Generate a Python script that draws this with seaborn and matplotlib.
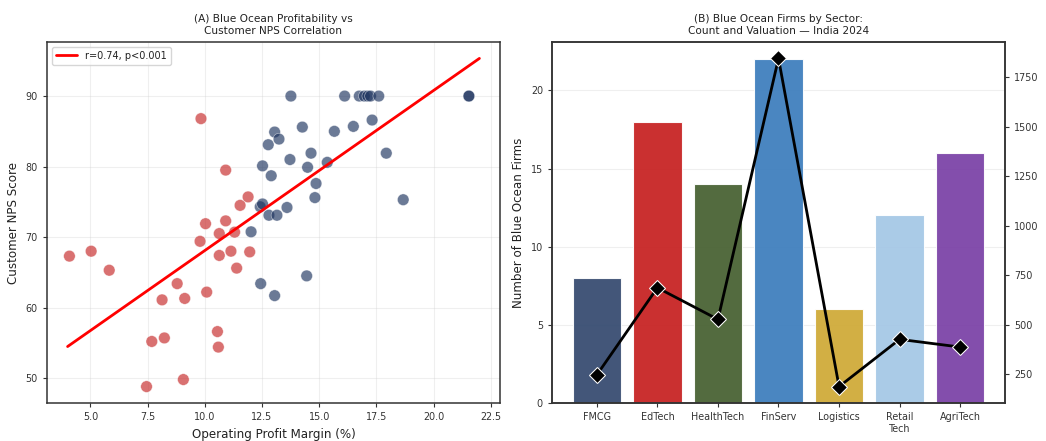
import numpy as np
import pandas as pd
import matplotlib
matplotlib.use("Agg")
import matplotlib.pyplot as plt
import seaborn as sns

# ---------------- data ----------------
red_margin = [4.08, 5.03, 5.82, 7.45, 7.68, 8.23, 8.13, 8.79, 9.12, 9.06, 9.83, 9.79, 10.03,
              10.08, 10.55, 10.59, 10.63, 10.63, 10.91, 10.91, 11.14, 11.30, 11.39, 11.54, 11.89, 11.96]
red_nps = [67.3, 68.0, 65.3, 48.8, 55.2, 55.7, 61.1, 63.4, 61.3, 49.8, 86.8, 69.4, 71.9,
           62.2, 56.6, 54.4, 70.5, 67.4, 79.5, 72.3, 68.0, 70.7, 65.6, 74.5, 75.7, 67.9]

blue_margin = [12.02, 12.42, 12.52, 12.44, 12.52, 12.77, 12.80, 12.90, 13.05, 13.15, 13.05, 13.24,
               13.59, 13.72, 13.76, 14.26, 14.45, 14.49, 14.64, 14.81, 14.86, 15.35, 15.66, 16.11,
               16.49, 16.75, 16.97, 17.12, 17.24, 17.31, 17.60, 17.93, 18.67, 21.54, 21.54]
blue_nps = [70.75, 74.3, 74.7, 63.4, 80.1, 83.1, 73.1, 78.7, 84.9, 73.1, 61.7, 83.9,
            74.2, 81.0, 90.0, 85.6, 64.5, 79.9, 81.9, 75.6, 77.6, 80.6, 85.0, 90.0,
            85.7, 90.0, 90.0, 90.0, 90.0, 86.6, 90.0, 81.9, 75.3, 90.0, 90.0]

fit_slope = 2.27
fit_intercept = 45.4
fit_x_range = [4.0, 22.0]
fit_label = "r=0.74, p<0.001"

sectors = ["FMCG", "EdTech", "HealthTech", "FinServ", "Logistics", "Retail\nTech", "AgriTech"]
firm_counts = [8, 18, 14, 22, 6, 12, 16]
valuation = [245, 686, 526, 1846, 186, 425, 386]
sector_colors = ["#34496f", "#c62020", "#466030", "#3c7dbd", "#cfa936", "#a4c7e6", "#7a40a6"]

# ---------------- style ----------------
sns.set_style("white")
plt.rcParams["font.family"] = ["DejaVu Sans"]
plt.rcParams["axes.edgecolor"] = "#333333"
plt.rcParams["axes.linewidth"] = 1.1
plt.rcParams["xtick.color"] = "#333333"
plt.rcParams["ytick.color"] = "#333333"
plt.rcParams["text.color"] = "#222222"
plt.rcParams["axes.labelcolor"] = "#222222"

TICK = 6.9
LABEL = 8.6
TITLE = 7.6

fig = plt.figure(figsize=(10.46, 4.41), dpi=100)
bottom = 1 - 403 / 441
height = 361 / 441
ax1 = fig.add_axes([47 / 1046, bottom, 453 / 1046, height])
ax2 = fig.add_axes([552 / 1046, bottom, 453 / 1046, height])

# ---------------- panel A ----------------
df = pd.DataFrame({
    "margin": red_margin + blue_margin,
    "nps": red_nps + blue_nps,
    "group": ["Red Ocean"] * len(red_margin) + ["Blue Ocean"] * len(blue_margin),
})
sns.scatterplot(data=df, x="margin", y="nps", hue="group",
                palette={"Red Ocean": "#c62828", "Blue Ocean": "#1f3560"},
                alpha=0.66, s=70, edgecolor="white", linewidth=0.4,
                legend=False, ax=ax1, zorder=3)
fx = np.array(fit_x_range)
sns.lineplot(x=fx, y=fit_slope * fx + fit_intercept, color="red", linewidth=2,
             label=fit_label, ax=ax1, zorder=4)
ax1.set_title("(A) Blue Ocean Profitability vs\nCustomer NPS Correlation", fontsize=TITLE)
ax1.set_xlabel("Operating Profit Margin (%)", fontsize=LABEL)
ax1.set_ylabel("Customer NPS Score", fontsize=LABEL)
ax1.set_xticks([5.0, 7.5, 10.0, 12.5, 15.0, 17.5, 20.0, 22.5])
ax1.set_yticks([50, 60, 70, 80, 90])
ax1.tick_params(labelsize=TICK, length=3, width=0.8, bottom=True, left=True)
ax1.grid(True, alpha=0.3)
ax1.legend(loc="upper left", fontsize=7, frameon=True, handlelength=2.2)
ax1.margins(x=0.05, y=0.05)

# ---------------- panel B ----------------
sns.barplot(x=sectors, y=firm_counts, hue=sectors, palette=sector_colors, legend=False,
            saturation=1, alpha=0.93, edgecolor="#ffffff", linewidth=0.8, width=0.8,
            ax=ax2, zorder=2)
ax2.set_xlim(-0.74, 6.74)
ax2.set_ylim(0, 23.1)
ax2.set_yticks([0, 5, 10, 15, 20])
ax2.set_ylabel("Number of Blue Ocean Firms", fontsize=LABEL)
ax2.set_xlabel("")
ax2.set_title("(B) Blue Ocean Firms by Sector:\nCount and Valuation \u2014 India 2024", fontsize=TITLE)
ax2.tick_params(labelsize=TICK, length=3, width=0.8, bottom=True, left=True)
ax2.yaxis.grid(True, alpha=0.3)
ax2.xaxis.grid(False)
ax2.set_axisbelow(True)

ax3 = ax2.twinx()
sns.lineplot(x=np.arange(len(sectors)), y=valuation, color="black", marker="D",
             markersize=8.5, linewidth=2, ax=ax3, zorder=5)
ax3.set_ylim(103, 1929)
ax3.set_yticks([250, 500, 750, 1000, 1250, 1500, 1750])
ax3.tick_params(labelsize=TICK, length=3, width=0.8, right=True)
ax3.set_ylabel("Avg Valuation (USD Mn)", fontsize=LABEL, labelpad=6)
ax3.grid(False)
ax2.set_xlim(-0.74, 6.74)

fig.savefig("out.png", dpi=100)
